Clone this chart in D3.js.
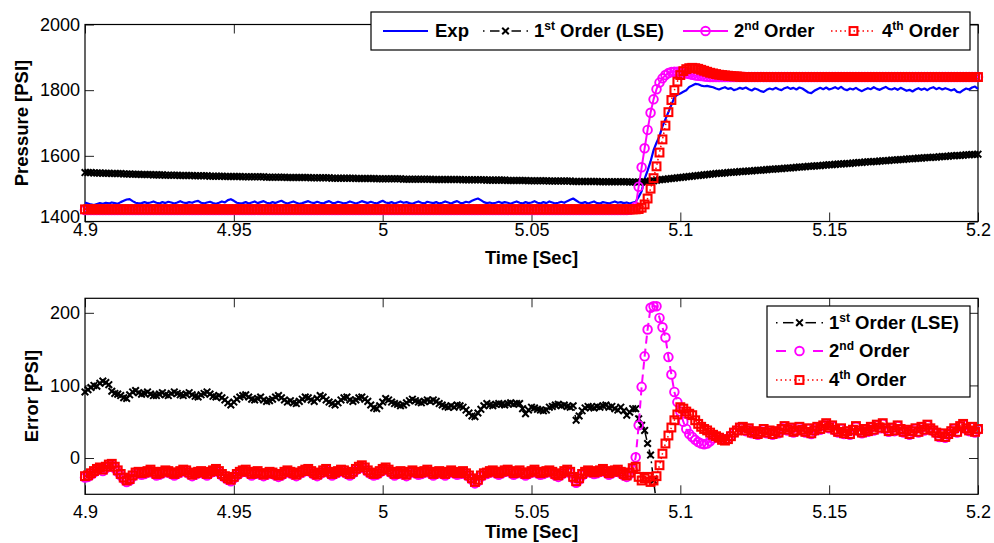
<!DOCTYPE html>
<html><head><meta charset="utf-8">
<script src="https://cdn.jsdelivr.net/npm/d3@7"></script>
<style>body{margin:0;background:#fff}svg{display:block}text{font-family:"Liberation Sans",Arial,sans-serif}</style>
</head><body><svg id="c" width="994" height="543"></svg>
<script>
const xTicks=[4.9,4.95,5,5.05,5.1,5.15,5.2];
const xTickLabels=["4.9","4.95","5","5.05","5.1","5.15","5.2"];
const topYTicks=[1400,1600,1800,2000];
const botYTicks=[0,100,200];
const T0=4.9, DT=0.001, N=301;
const time=d3.range(N).map(i=>+(T0+i*DT).toFixed(3));

const expP=[
1458,1455,1452,1450,1453,1456,1454,1457,1455,1458,
1456,1454,1459,1463,1467,1468,1462,1457,1455,1456,
1459,1456,1458,1461,1457,1455,1459,1456,1460,1458,
1455,1458,1462,1458,1456,1459,1457,1461,1463,1457,
1455,1458,1460,1456,1454,1457,1461,1458,1465,1468,
1463,1457,1455,1456,1459,1455,1458,1461,1456,1459,
1462,1457,1455,1459,1456,1460,1463,1458,1455,1458,
1461,1457,1454,1456,1459,1462,1458,1456,1460,1457,
1455,1459,1462,1457,1456,1460,1458,1455,1457,1461,
1458,1455,1458,1462,1459,1456,1460,1457,1455,1459,
1463,1458,1456,1459,1455,1458,1461,1457,1459,1456,
1454,1458,1461,1457,1455,1460,1458,1456,1459,1455,
1457,1461,1458,1455,1459,1462,1457,1456,1460,1458,
1463,1467,1470,1465,1459,1456,1458,1455,1457,1460,
1456,1459,1457,1454,1458,1461,1457,1455,1459,1456,
1458,1462,1457,1455,1459,1456,1461,1458,1455,1457,
1460,1457,1462,1466,1470,1464,1458,1456,1459,1455,
1458,1461,1456,1455,1459,1457,1455,1458,1461,1457,
1459,1456,1458,1455,1458,
1460,1475,1492,1530,1555,1583,1617,1640,1660,1690,1712,1733,1755,1778,1786,
1790,1795,1800,1810,1814,1819,1818,1814,1812,1813,
1811,
1809,1805,1802,1806,1809,1804,1806,1800,1803,1807,
1804,1808,1803,1799,1805,1802,1797,1795,1801,1805,
1802,1807,1803,1800,1806,1809,1804,1807,1802,1808,
1805,1799,1793,1791,1798,1803,1807,1803,1808,1802,
1805,1809,1804,1810,1803,1800,1805,1802,1807,1801,
1797,1802,1806,1803,1809,1804,1801,1806,1810,1804,
1802,1806,1801,1807,1803,1798,1801,1796,1802,1806,
1801,1805,1800,1806,1809,1803,1807,1802,1806,1803,
1799,1803,1795,1793,1800,1805,1802,1808,1811,1804];

const firstP=[
1549,1549,1549,1548,1548,1548,1547,1547,1547,1546,
1546,1546,1546,1545,1545,1545,1544,1544,1544,1543,
1543,1543,1543,1542,1542,1542,1542,1541,1541,1541,
1541,1541,1540,1540,1540,1540,1540,1539,1539,1539,
1539,1539,1538,1538,1538,1538,1538,1537,1537,1537,
1537,1537,1537,1536,1536,1536,1536,1536,1536,1536,
1536,1535,1535,1535,1535,1535,1535,1535,1534,1534,
1534,1534,1534,1534,1534,1534,1533,1533,1533,1533,
1533,1533,1533,1532,1532,1532,1532,1532,1532,1532,
1532,1531,1531,1531,1531,1531,1531,1531,1530,1530,
1530,1530,1530,1530,1530,1530,1530,1529,1529,1529,
1529,1529,1529,1529,1529,1529,1529,1528,1528,1528,
1528,1528,1528,1528,1528,1528,1528,1527,1527,1527,
1527,1527,1527,1527,1527,1526,1526,1526,1526,1526,
1526,1526,1525,1525,1525,1525,1525,1525,1525,1524,
1524,1524,1524,1524,1524,1524,1523,1523,1523,1523,
1523,1523,1523,1523,1522,1522,1522,1522,1522,1522,
1522,1522,1522,1521,1521,1521,1521,1521,1521,1521,
1521,1521,1521,1520,1520,1520,1520,1520,1521,1522,
1523,1524,1526,1527,1528,1529,1530,1531,1532,1533,
1534,1535,1536,1537,1538,1539,1540,1541,1542,1543,
1544,1545,1546,1547,1547,1548,1549,1550,1550,1551,
1552,1552,1553,1554,1554,1555,1556,1556,1557,1558,
1559,1559,1560,1561,1561,1562,1563,1563,1564,1565,
1566,1566,1567,1568,1568,1569,1570,1570,1571,1572,
1573,1573,1574,1575,1575,1576,1577,1577,1578,1579,
1580,1580,1581,1582,1582,1583,1583,1584,1585,1585,
1586,1587,1587,1588,1589,1589,1590,1591,1591,1592,
1593,1593,1594,1595,1595,1596,1596,1597,1598,1598,
1599,1600,1600,1601,1601,1602,1603,1603,1604,1604,
1605];

const secondP=[
1435,1435,1435,1435,1435,1435,1435,1435,1435,1435,
1435,1435,1435,1435,1435,1435,1435,1435,1435,1435,
1435,1435,1435,1435,1435,1435,1435,1435,1435,1435,
1435,1435,1435,1435,1435,1435,1435,1435,1435,1435,
1435,1435,1435,1435,1435,1435,1435,1435,1435,1435,
1435,1435,1435,1435,1435,1435,1435,1435,1435,1435,
1435,1435,1435,1435,1435,1435,1435,1435,1435,1435,
1435,1435,1435,1435,1435,1435,1435,1435,1435,1435,
1435,1435,1435,1435,1435,1435,1435,1435,1435,1435,
1435,1435,1435,1435,1435,1435,1435,1435,1435,1435,
1435,1435,1435,1435,1435,1435,1435,1435,1435,1435,
1435,1435,1435,1435,1435,1435,1435,1435,1435,1435,
1435,1435,1435,1435,1435,1435,1435,1435,1435,1435,
1435,1435,1435,1435,1435,1435,1435,1435,1435,1435,
1435,1435,1435,1435,1435,1435,1435,1435,1435,1435,
1435,1435,1435,1435,1435,1435,1435,1435,1435,1435,
1435,1435,1435,1435,1435,1435,1435,1435,1435,1435,
1435,1435,1435,1435,1435,1435,1435,1435,1435,1435,
1435,1435,1435,1436,1438,1445,1506,1565,1623,1679,
1731,1772,1803,1823,1836,1846,1852,1855,1856,1856,
1855,1853,1851,1849,1847,1845,1844,1843,1842,1841,
1840,1840,1840,1840,1840,1840,1840,1840,1840,1840,
1840,1840,1840,1840,1840,1840,1840,1840,1840,1840,
1840,1840,1840,1840,1840,1840,1840,1840,1840,1840,
1840,1840,1840,1840,1840,1840,1840,1840,1840,1840,
1840,1840,1840,1840,1840,1840,1840,1840,1840,1840,
1840,1840,1840,1840,1840,1840,1840,1840,1840,1840,
1840,1840,1840,1840,1840,1840,1840,1840,1840,1840,
1840,1840,1840,1840,1840,1840,1840,1840,1840,1840,
1840,1840,1840,1840,1840,1840,1840,1840,1840,1840,
1840];

const fourthP=[
1437,1437,1437,1437,1437,1437,1437,1437,1437,1437,
1437,1437,1437,1437,1437,1437,1437,1437,1437,1437,
1437,1437,1437,1437,1437,1437,1437,1437,1437,1437,
1437,1437,1437,1437,1437,1437,1437,1437,1437,1437,
1437,1437,1437,1437,1437,1437,1437,1437,1437,1437,
1437,1437,1437,1437,1437,1437,1437,1437,1437,1437,
1437,1437,1437,1437,1437,1437,1437,1437,1437,1437,
1437,1437,1437,1437,1437,1437,1437,1437,1437,1437,
1437,1437,1437,1437,1437,1437,1437,1437,1437,1437,
1437,1437,1437,1437,1437,1437,1437,1437,1437,1437,
1437,1437,1437,1437,1437,1437,1437,1437,1437,1437,
1437,1437,1437,1437,1437,1437,1437,1437,1437,1437,
1437,1437,1437,1437,1437,1437,1437,1437,1437,1437,
1437,1437,1437,1437,1437,1437,1437,1437,1437,1437,
1437,1437,1437,1437,1437,1437,1437,1437,1437,1437,
1437,1437,1437,1437,1437,1437,1437,1437,1437,1437,
1437,1437,1437,1437,1437,1437,1437,1437,1437,1437,
1437,1437,1437,1437,1437,1437,1437,1437,1437,1437,
1437,1437,1437,1437,1437,1437,1438,1442,1452,1470,
1500,1532,1568,1610,1650,1692,1733,1770,1800,1826,
1846,1858,1864,1867,1868,1867,1865,1862,1859,1856,
1853,1851,1849,1847,1846,1845,1844,1843,1842,1842,
1841,1840,1840,1840,1840,1840,1840,1840,1840,1840,
1840,1840,1840,1840,1840,1840,1840,1840,1840,1840,
1840,1840,1840,1840,1840,1840,1840,1840,1840,1840,
1840,1840,1840,1840,1840,1840,1840,1840,1840,1840,
1840,1840,1840,1840,1840,1840,1840,1840,1840,1840,
1840,1840,1840,1840,1840,1840,1840,1840,1840,1840,
1840,1840,1840,1840,1840,1840,1840,1840,1840,1840,
1840,1840,1840,1840,1840,1840,1840,1840,1840,1840,
1840];

// error of the 1st order model (goes off-scale below after ~5.092 s)
const err1=[
91,94,97,100,99,103,106,104,101,92,
89,88,86,83,82,87,91,93,90,88,
89,91,88,86,86,88,90,87,86,89,
91,89,87,86,88,90,87,85,84,87,
89,91,88,85,84,86,83,80,76,73,
77,81,84,86,87,84,81,80,82,84,
80,78,79,81,84,86,83,80,77,79,
76,75,78,81,84,83,80,78,82,86,
84,80,77,75,73,76,80,83,84,80,
78,80,83,84,81,78,73,69,68,72,
77,82,80,77,75,74,72,73,76,79,
81,79,77,76,78,80,78,80,78,75,
73,71,70,72,70,73,72,70,66,62,
58,57,62,67,72,75,73,72,74,75,
74,73,75,76,74,75,75,68,61,66,
70,69,67,66,65,66,70,71,73,74,
72,73,71,70,72,52,58,65,69,71,
70,69,71,70,72,73,70,71,68,66,
70,65,59,63,68,68,54,45,38,20,
4,-31,-62];

const err2=[
-27,-26,-23,-20,-17,-15,-18,-14,-11,-10,
-14,-19,-24,-29,-33,-31,-26,-22,-21,-23,
-22,-20,-18,-21,-24,-23,-21,-19,-20,-22,
-24,-22,-20,-18,-19,-22,-25,-23,-21,-20,
-22,-24,-21,-19,-17,-20,-24,-27,-30,-32,
-28,-24,-21,-19,-18,-21,-24,-22,-20,-23,
-25,-23,-21,-22,-24,-26,-24,-21,-19,-21,
-23,-25,-22,-20,-18,-17,-20,-23,-25,-22,
-19,-17,-21,-24,-22,-20,-18,-19,-22,-24,
-21,-17,-14,-12,-15,-19,-22,-24,-23,-20,
-17,-15,-18,-21,-24,-22,-20,-23,-25,-21,
-19,-21,-23,-22,-20,-18,-21,-24,-22,-20,
-22,-24,-21,-19,-21,-23,-22,-20,-23,-26,
-30,-35,-32,-26,-23,-22,-20,-19,-21,-23,
-21,-19,-18,-20,-23,-21,-19,-22,-24,-22,
-20,-18,-21,-23,-22,-20,-19,-21,-24,-26,
-23,-20,-18,-21,-28,-34,-30,-24,-21,-19,
-20,-22,-21,-19,-17,-20,-23,-21,-19,-18,
-21,-24,-26,-22,-16,1,45,98,140,177,
207,209,209,193,180,166,139,115,91,77,
64,50,40,33,29,25,22,20,19,20,
23,27,29,28,26,25,27,31,35,38,
42,42,37,40,34,36,32,35,39,34,
37,32,36,34,39,43,38,41,35,37,
42,38,35,40,33,37,42,39,44,47,
41,44,38,35,40,33,36,32,38,43,
37,34,39,36,42,38,45,41,47,40,
36,41,37,44,39,35,38,32,36,40,
35,42,38,45,40,37,34,29,33,28,
32,36,40,35,43,46,40,37,42,35,
39];

const err4=[
-25,-24,-21,-18,-15,-13,-16,-12,-9,-8,
-12,-17,-22,-27,-31,-29,-24,-20,-19,-21,
-20,-18,-16,-19,-22,-21,-19,-17,-18,-20,
-22,-20,-18,-16,-17,-20,-23,-21,-19,-18,
-20,-22,-19,-17,-15,-18,-22,-25,-28,-30,
-26,-22,-19,-17,-16,-19,-22,-20,-18,-21,
-23,-21,-19,-20,-22,-24,-22,-19,-17,-19,
-21,-23,-20,-18,-16,-15,-18,-21,-23,-20,
-17,-15,-19,-22,-20,-18,-16,-17,-20,-22,
-19,-15,-12,-10,-13,-17,-20,-22,-21,-18,
-15,-13,-16,-19,-22,-20,-18,-21,-23,-19,
-17,-19,-21,-20,-18,-16,-19,-22,-20,-18,
-20,-22,-19,-17,-19,-21,-20,-18,-21,-24,
-28,-33,-30,-24,-21,-20,-18,-17,-19,-21,
-19,-17,-16,-18,-21,-19,-17,-20,-22,-20,
-18,-16,-19,-21,-20,-18,-17,-19,-22,-24,
-21,-18,-16,-19,-26,-32,-28,-22,-19,-17,
-18,-20,-19,-17,-15,-18,-21,-19,-17,-16,
-19,-22,-24,-20,-14,-12,-26,-31,-28,-26,
-33,-31,-25,-10,6,20,31,42,52,60,
70,68,64,61,59,52,47,43,40,38,
35,32,30,28,25,24,26,30,35,38,
42,43,38,41,35,37,33,36,40,35,
38,33,37,35,40,44,39,42,36,38,
43,39,36,41,34,38,43,40,45,48,
42,45,39,36,41,34,37,33,39,44,
38,35,40,37,43,39,46,42,48,41,
37,42,38,45,40,36,39,33,37,41,
36,43,39,46,41,38,35,30,34,29,
33,37,41,36,44,47,41,38,43,36,
40];

const svg=d3.select("#c");
const FONT="'Liberation Sans',Arial,sans-serif";
const X0=85, X1=978;
const x=d3.scaleLinear().domain([4.9,5.2]).range([X0,X1]);
const yTop=d3.scaleLinear().domain([1400,2000]).range([221.5,24.5]);
const yBot=d3.scaleLinear().domain([-50,220]).range([494.3,298.3]);

svg.append("defs").append("clipPath").attr("id","clipBot")
  .append("rect").attr("x",X0-12).attr("y",290).attr("width",X1-X0+24).attr("height",494.3-290);

function styleAxis(g){
  g.attr("font-family",FONT).attr("font-size",18);
  g.select(".domain").remove();
  g.selectAll(".tick line").attr("stroke","#222").attr("stroke-width",1);
  g.selectAll(".tick text").attr("fill","#000");
  return g;
}

function drawFrame(y, yTicks, xPad){
  const [yb,yt]=y.range();
  styleAxis(svg.append("g").attr("transform",`translate(0,${yb})`)
    .call(d3.axisBottom(x).tickValues(xTicks).tickFormat((d,i)=>xTickLabels[i]).tickSizeInner(-9).tickSizeOuter(0).tickPadding(xPad)));
  styleAxis(svg.append("g").attr("transform",`translate(0,${yt})`)
    .call(d3.axisTop(x).tickValues(xTicks).tickFormat("").tickSizeInner(-9).tickSizeOuter(0)));
  const gl=styleAxis(svg.append("g").attr("transform",`translate(${X0},0)`)
    .call(d3.axisLeft(y).tickValues(yTicks).tickFormat(d3.format("d")).tickSizeInner(-9).tickSizeOuter(0).tickPadding(5)));
  styleAxis(svg.append("g").attr("transform",`translate(${X1},0)`)
    .call(d3.axisRight(y).tickValues(yTicks).tickFormat("").tickSizeInner(-9).tickSizeOuter(0)));
  svg.append("rect").attr("x",X0).attr("y",yt).attr("width",X1-X0).attr("height",yb-yt)
    .attr("fill","none").attr("stroke","#000").attr("stroke-width",1.2);
  return gl;
}

const xPath=s=>`M${-s},${-s}L${s},${s}M${-s},${s}L${s},${-s}`;
function marker(g, type, px, py, color){
  if(type==="x"){
    g.append("path").attr("d",xPath(3.3)).attr("transform",`translate(${px},${py})`)
      .attr("stroke",color).attr("stroke-width",2).attr("fill","none");
  }else if(type==="o"){
    g.append("circle").attr("cx",px).attr("cy",py).attr("r",4.3)
      .attr("stroke",color).attr("stroke-width",1.9).attr("fill","none");
  }else if(type==="s"){
    g.append("rect").attr("x",px-3.9).attr("y",py-3.9).attr("width",7.8).attr("height",7.8)
      .attr("stroke",color).attr("stroke-width",2.1).attr("fill","none");
  }
}

function series(parent, y, vals, o){
  const g=parent.append("g");
  const pts=vals.map((v,i)=>[time[i],v]).filter(d=>d[1]!=null);
  g.append("path").datum(pts)
    .attr("d",d3.line().x(d=>x(d[0])).y(d=>y(d[1])))
    .attr("fill","none").attr("stroke",o.color).attr("stroke-width",o.lw)
    .attr("stroke-dasharray",o.dash||null).attr("stroke-linejoin","round");
  if(o.marker){
    pts.forEach(d=>marker(g,o.marker,x(d[0]),y(d[1]),o.color));
  }
  return g;
}

// ---- top panel
const glTop=drawFrame(yTop, topYTicks, 2);
glTop.selectAll(".tick text").filter(d=>d===1400).attr("y",-5);
const gTop=svg.append("g");
series(gTop,yTop,expP,{color:"#0000ff",lw:2.2});
series(gTop,yTop,firstP,{color:"#000",lw:1.5,dash:"8,4,2,4",marker:"x"});
series(gTop,yTop,secondP,{color:"#ff00ff",lw:2,marker:"o"});
series(gTop,yTop,fourthP,{color:"#ff0000",lw:1.5,dash:"1.5,3",marker:"s"});

// ---- bottom panel
drawFrame(yBot, botYTicks, 11);
const gBot=svg.append("g");
series(gBot.append("g").attr("clip-path","url(#clipBot)"),yBot,err1,{color:"#000",lw:1.5,dash:"8,4,2,4",marker:"x"});
series(gBot,yBot,err2,{color:"#ff00ff",lw:2,dash:"8,5",marker:"o"});
series(gBot,yBot,err4,{color:"#ff0000",lw:1.5,dash:"1.5,3",marker:"s"});

// ---- axis labels
function label(txt,xx,yy,rot){
  const t=svg.append("text").attr("x",xx).attr("y",yy).attr("dy","0.35em")
    .attr("text-anchor","middle").attr("font-weight","bold").attr("font-size",18.5)
    .attr("font-family",FONT).text(txt);
  if(rot) t.attr("transform",`rotate(-90,${xx},${yy})`);
}
label("Pressure [PSI]",21.5,123,true);
label("Time [Sec]",(X0+X1)/2,258,false);
label("Error [PSI]",31.5,396,true);
label("Time [Sec]",(X0+X1)/2,532,false);

// ---- legends
function legendText(g,tx,ty,main,sup,rest){
  const t=g.append("text").attr("x",tx).attr("y",ty).attr("dy","0.35em")
    .attr("font-weight","bold").attr("font-size",18.5).attr("font-family",FONT);
  t.append("tspan").text(main);
  if(sup){
    t.append("tspan").attr("font-size",12).attr("dy",-7).text(sup);
    t.append("tspan").attr("dy",7).text(rest);
  }
}
function legendLine(g,x1,x2,ly,o){
  const L=x2-x1, c=(x1+x2)/2;
  const seg=(a,b,extra)=>g.append("line").attr("x1",x1+a).attr("x2",x1+b).attr("y1",ly).attr("y2",ly)
    .attr("stroke",o.color).attr("stroke-width",o.lw).attr("stroke-dasharray",extra||null);
  if(o.style==="solid") seg(0,L);
  else if(o.style==="dashdot"){ seg(0,1.5); seg(7,L/2-6); seg(L/2+6,L-7); seg(L-1.5,L); }
  else if(o.style==="dashed"){ seg(0,10); seg(L-10,L); }
  else if(o.style==="dotted"){ seg(0,L,"1.5,3"); }
  if(o.marker) marker(g,o.marker,c,ly,o.color);
}

const legTop=svg.append("g");
legTop.append("rect").attr("x",371).attr("y",12).attr("width",599).attr("height",38)
  .attr("fill","#fff").attr("stroke","#000").attr("stroke-width",1.2);
const LT=31;
legendLine(legTop,383,428,LT,{color:"#0000ff",lw:2,style:"solid"});
legendText(legTop,435,LT,"Exp");
legendLine(legTop,483,528,LT,{color:"#000",lw:1.5,style:"dashdot",marker:"x"});
legendText(legTop,534,LT,"1","st"," Order (LSE)");
legendLine(legTop,683,728,LT,{color:"#ff00ff",lw:2,style:"solid",marker:"o"});
legendText(legTop,734,LT,"2","nd"," Order");
legendLine(legTop,831,876,LT,{color:"#ff0000",lw:1.5,style:"dotted",marker:"s"});
legendText(legTop,882,LT,"4","th"," Order");

const legBot=svg.append("g");
legBot.append("rect").attr("x",767).attr("y",306).attr("width",203).attr("height",91)
  .attr("fill","#fff").attr("stroke","#000").attr("stroke-width",1.2);
legendLine(legBot,776,823,322.7,{color:"#000",lw:1.5,style:"dashdot",marker:"x"});
legendText(legBot,829,322.7,"1","st"," Order (LSE)");
legendLine(legBot,776,823,351,{color:"#ff00ff",lw:2,style:"dashed",marker:"o"});
legendText(legBot,829,351,"2","nd"," Order");
legendLine(legBot,776,823,380,{color:"#ff0000",lw:1.5,style:"dotted",marker:"s"});
legendText(legBot,829,380,"4","th"," Order");
</script></body></html>
